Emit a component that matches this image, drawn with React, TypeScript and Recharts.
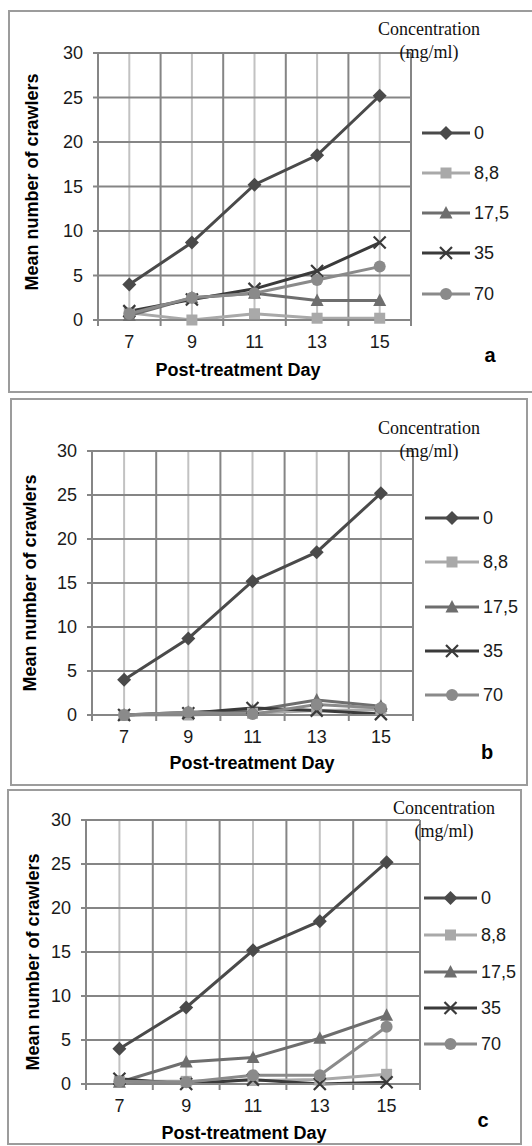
import React from "react";
import { LineChart, Line, XAxis, YAxis, ReferenceLine } from "recharts";

// post-treatment days
const days = [7, 9, 11, 13, 15];

// control (0 mg/ml), same in every panel
const control = [4.0, 8.7, 15.2, 18.5, 25.2];

// panel a
const a88 = [0.8, 0.0, 0.7, 0.2, 0.2];
const a175 = [0.5, 2.5, 3.0, 2.2, 2.2];
const a35 = [1.0, 2.3, 3.5, 5.5, 8.7];
const a70 = [0.7, 2.5, 3.0, 4.5, 6.0];

// panel b
const b88 = [0.0, 0.0, 0.2, 0.5, 0.6];
const b175 = [0.0, 0.3, 0.5, 1.7, 1.0];
const b35 = [0.0, 0.2, 0.8, 0.5, 0.1];
const b70 = [0.0, 0.3, 0.1, 1.2, 0.8];

// panel c
const c88 = [0.3, 0.3, 0.4, 0.5, 1.1];
const c175 = [0.2, 2.5, 3.0, 5.2, 7.8];
const c35 = [0.6, 0.0, 0.5, 0.0, 0.2];
const c70 = [0.3, 0.2, 1.0, 1.0, 6.5];

const xTicks = [6, 7, 8, 9, 10, 11, 12, 13, 14, 15, 16];
const yTicks = [0, 5, 10, 15, 20, 25, 30];
const evenDays = [6, 8, 10, 12, 14, 16];
const oddDays = [7, 9, 11, 13, 15];

const SANS = "'Liberation Sans', Arial, sans-serif";
const SERIF = "'Liberation Serif', 'Times New Roman', serif";

type Shape = "diamond" | "square" | "triangle" | "x" | "circle";

const SERIES: { key: string; name: string; color: string; shape: Shape }[] = [
  { key: "c0", name: "0", color: "#4a4a4a", shape: "diamond" },
  { key: "c88", name: "8,8", color: "#a9a9a9", shape: "square" },
  { key: "c175", name: "17,5", color: "#6e6e6e", shape: "triangle" },
  { key: "c35", name: "35", color: "#3a3a3a", shape: "x" },
  { key: "c70", name: "70", color: "#8a8a8a", shape: "circle" },
];

function buildRows(s88: number[], s175: number[], s35: number[], s70: number[]) {
  return days.map((d, i) => ({
    day: d,
    c0: control[i],
    c88: s88[i],
    c175: s175[i],
    c35: s35[i],
    c70: s70[i],
  }));
}

function Marker({ shape, cx, cy, color }: { shape: Shape; cx: number; cy: number; color: string }) {
  switch (shape) {
    case "diamond":
      return (
        <polygon
          points={`${cx},${cy - 7} ${cx + 7},${cy} ${cx},${cy + 7} ${cx - 7},${cy}`}
          fill={color}
        />
      );
    case "square":
      return <rect x={cx - 5.5} y={cy - 5.5} width={11} height={11} fill={color} />;
    case "triangle":
      return (
        <polygon
          points={`${cx},${cy - 7} ${cx + 6.5},${cy + 5.5} ${cx - 6.5},${cy + 5.5}`}
          fill={color}
        />
      );
    case "x":
      return (
        <path
          d={`M${cx - 6},${cy - 6}L${cx + 6},${cy + 6}M${cx + 6},${cy - 6}L${cx - 6},${cy + 6}`}
          stroke={color}
          strokeWidth={2.2}
          fill="none"
        />
      );
    default:
      return <circle cx={cx} cy={cy} r={6} fill={color} />;
  }
}

const XTick = (props: any) => {
  const { x, y, payload } = props;
  const v = payload.value;
  if (v % 2 === 0) {
    return <line x1={x} x2={x} y1={y} y2={y + 6} stroke="#868686" strokeWidth={2} />;
  }
  return (
    <text x={x} y={y + 22} textAnchor="middle" dominantBaseline="central" fontSize={18} fill="#1a1a1a" fontFamily={SANS}>
      {v}
    </text>
  );
};

const PANELS = [
  {
    letter: "a",
    rows: buildRows(a88, a175, a35, a70),
    top: 0,
    height: 400,
    plot: { l: 98, r: 411, t: 53, b: 320 },
    border: { l: 8, t: 10, w: 540, h: 383 },
    legend: { x1: 422, x2: 470, rows: [133, 173, 213, 253, 294] },
    conc: { x: 429, y1: 29, y2: 52 },
    yTitle: { x: 32, y: 182 },
    xTitle: { x: 238, y: 370 },
    tag: { x: 490, y: 355 },
  },
  {
    letter: "b",
    rows: buildRows(b88, b175, b35, b70),
    top: 395,
    height: 390,
    plot: { l: 92, r: 413, t: 451, b: 715 },
    border: { l: 10, t: 398, w: 518, h: 388 },
    legend: { x1: 425, x2: 479, rows: [518, 562, 607, 651, 695] },
    conc: { x: 429, y1: 428, y2: 451 },
    yTitle: { x: 30, y: 583 },
    xTitle: { x: 252, y: 763 },
    tag: { x: 487, y: 752 },
  },
  {
    letter: "c",
    rows: buildRows(c88, c175, c35, c70),
    top: 786,
    height: 360,
    plot: { l: 86, r: 420, t: 820, b: 1084 },
    border: { l: 7, t: 789, w: 515, h: 356 },
    legend: { x1: 424, x2: 477, rows: [898, 935, 972, 1008, 1044] },
    conc: { x: 444, y1: 808, y2: 831 },
    yTitle: { x: 33, y: 962 },
    xTitle: { x: 244, y: 1133 },
    tag: { x: 483, y: 1120 },
  },
];

const Y_W = 60;
const X_H = 30;

export default function App() {
  return (
    <div style={{ position: "absolute", left: 0, top: 0, width: 532, height: 1146, background: "#fff", overflow: "hidden" }}>
      {PANELS.map((p) => (
        <div
          key={"b" + p.letter}
          style={{
            position: "absolute",
            left: p.border.l,
            top: p.border.t,
            width: p.border.w,
            height: p.border.h,
            border: "2px solid #9c9c9c",
            boxSizing: "border-box",
          }}
        />
      ))}
      {PANELS.map((p) => (
        <div key={"c" + p.letter} style={{ position: "absolute", left: 0, top: p.top }}>
          <LineChart
            width={532}
            height={p.height}
            data={p.rows}
            margin={{
              top: p.plot.t - p.top,
              left: p.plot.l - Y_W,
              right: 532 - p.plot.r,
              bottom: p.top + p.height - p.plot.b - X_H,
            }}
          >
            {oddDays.map((d) => (
              <ReferenceLine key={"o" + d} x={d} stroke="#c2c2c2" strokeWidth={2} />
            ))}
            {evenDays.map((d) => (
              <ReferenceLine key={"e" + d} x={d} stroke="#858585" strokeWidth={2} />
            ))}
            {yTicks.map((v) => (
              <ReferenceLine key={"h" + v} y={v} stroke="#858585" strokeWidth={2} />
            ))}
            <XAxis
              type="number"
              dataKey="day"
              domain={[6, 16]}
              ticks={xTicks}
              interval={0}
              height={X_H}
              tickSize={0}
              tickMargin={0}
              tickLine={false}
              axisLine={{ stroke: "#868686", strokeWidth: 2 }}
              tick={(tp: any) => <XTick {...tp} />}
            />
            <YAxis
              type="number"
              domain={[0, 30]}
              ticks={yTicks}
              interval={0}
              width={Y_W}
              tickSize={5}
              tickMargin={10}
              axisLine={{ stroke: "#868686", strokeWidth: 2 }}
              tickLine={{ stroke: "#868686", strokeWidth: 2 }}
              tick={{ fontSize: 18, fill: "#1a1a1a", fontFamily: SANS }}
            />
            {SERIES.map((s) => (
              <Line
                key={s.key}
                type="linear"
                dataKey={s.key}
                name={s.name}
                stroke={s.color}
                strokeWidth={3}
                isAnimationActive={false}
                dot={(dp: any) => (
                  <Marker key={s.key + dp.index} shape={s.shape} cx={dp.cx} cy={dp.cy} color={s.color} />
                )}
                activeDot={false}
              />
            ))}
          </LineChart>
        </div>
      ))}
      <svg
        width={532}
        height={1146}
        style={{ position: "absolute", left: 0, top: 0, pointerEvents: "none" }}
      >
        {PANELS.map((p) => (
          <g key={"t" + p.letter}>
            <text x={p.conc.x} y={p.conc.y1} textAnchor="middle" dominantBaseline="central" fontSize={18} fontFamily={SERIF} fill="#111">
              Concentration
            </text>
            <text x={p.conc.x} y={p.conc.y2} textAnchor="middle" dominantBaseline="central" fontSize={18} fontFamily={SERIF} fill="#111">
              (mg/ml)
            </text>
            <text
              x={p.yTitle.x}
              y={p.yTitle.y}
              transform={`rotate(-90 ${p.yTitle.x} ${p.yTitle.y})`}
              textAnchor="middle"
              dominantBaseline="central"
              fontSize={18}
              fontWeight="bold"
              fontFamily={SANS}
              fill="#000"
            >
              Mean number of crawlers
            </text>
            <text x={p.xTitle.x} y={p.xTitle.y} textAnchor="middle" dominantBaseline="central" fontSize={18} fontWeight="bold" fontFamily={SANS} fill="#000">
              Post-treatment Day
            </text>
            <text x={p.tag.x} y={p.tag.y} textAnchor="middle" dominantBaseline="central" fontSize={20} fontWeight="bold" fontFamily={SANS} fill="#000">
              {p.letter}
            </text>
            {SERIES.map((s, i) => {
              const y = p.legend.rows[i];
              const mid = (p.legend.x1 + p.legend.x2) / 2;
              return (
                <g key={s.key}>
                  <line x1={p.legend.x1} x2={p.legend.x2} y1={y} y2={y} stroke={s.color} strokeWidth={3} />
                  <Marker shape={s.shape} cx={mid} cy={y} color={s.color} />
                  <text x={p.legend.x2 + 4} y={y} dominantBaseline="central" fontSize={18} fontFamily={SANS} fill="#1a1a1a">
                    {s.name}
                  </text>
                </g>
              );
            })}
          </g>
        ))}
      </svg>
    </div>
  );
}
